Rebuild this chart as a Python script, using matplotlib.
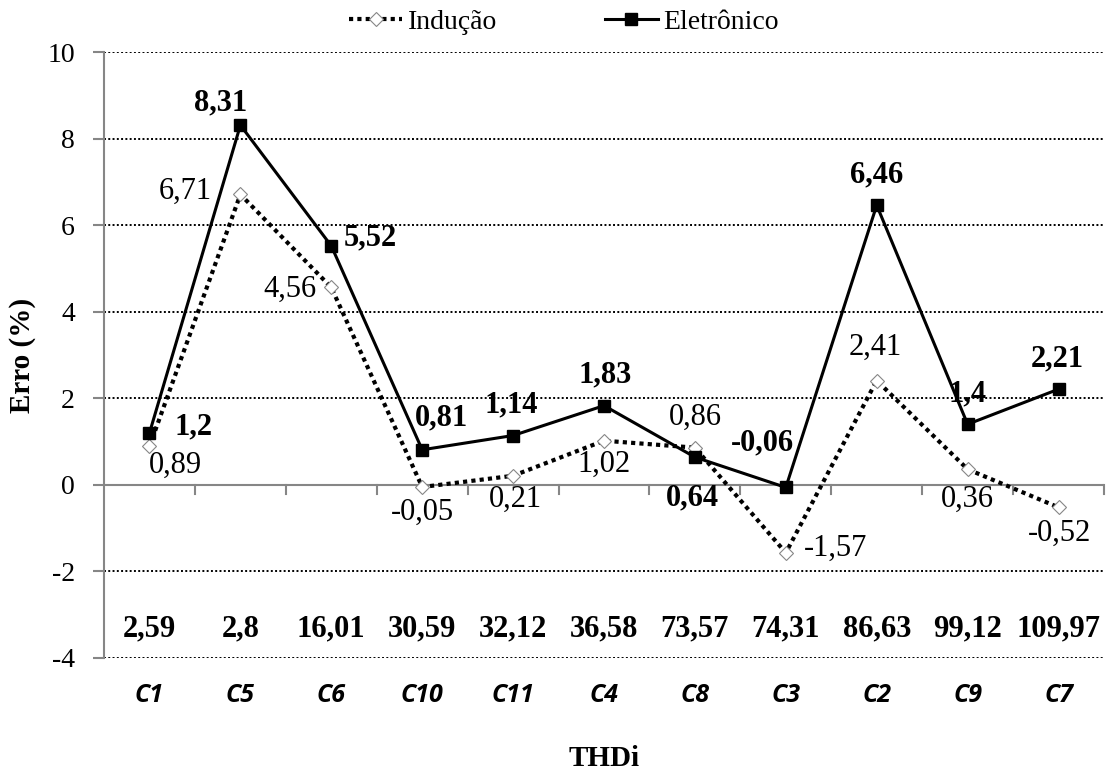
"""Erro (%) por carga: medidor de indução vs eletrônico"""

import matplotlib
matplotlib.use("Agg")
import matplotlib.pyplot as plt

# data
cargas = ["C1", "C5", "C6", "C10", "C11", "C4", "C8", "C3", "C2", "C9", "C7"]
thdi = ["2,59", "2,8", "16,01", "30,59", "32,12", "36,58", "73,57", "74,31",
        "86,63", "99,12", "109,97"]
inducao = [0.89, 6.71, 4.56, -0.05, 0.21, 1.02, 0.86, -1.57, 2.41, 0.36, -0.52]
eletronico = [1.2, 8.31, 5.52, 0.81, 1.14, 1.83, 0.64, -0.06, 6.46, 1.4, 2.21]

# label offsets (points) for each data label
off_ind = [(19, -14), (-40, 2), (-30, -1), (0, -18), (2, -17), (0, -17),
           (0, 22), (36, 3), (-1, 24), (0, -22), (1, -19)]
off_ele = [(32, 4), (-14, 16), (28, 6), (14, 23), (-1, 22), (1, 22),
           (-2, -29), (-17, 32), (0, 22), (0, 22), (-1, 22)]

SERIF = "Liberation Serif"
GRAY = "#868686"


def fmt(v):
    s = f"{v:.2f}".rstrip("0").rstrip(".")
    return s.replace(".", ",")


def main():
    fig = plt.figure(figsize=(11.14, 7.73), dpi=100)
    ax = fig.add_axes([0.0934, 0.1488, 0.8976, 0.7839])

    x = list(range(len(cargas)))

    ax.plot(x, inducao, linestyle=(0, (1, 1)), color="black", linewidth=3,
            marker="D", markersize=7, markerfacecolor="white",
            markeredgecolor=GRAY, markeredgewidth=0.8, label="Indução",
            zorder=3)
    ax.plot(x, eletronico, linestyle="-", color="black", linewidth=2.2,
            marker="s", markersize=9, markerfacecolor="black",
            markeredgecolor="black", label="Eletrônico", zorder=4)

    for i, v in enumerate(inducao):
        ax.annotate(fmt(v), (i, v), xytext=off_ind[i], textcoords="offset points",
                    ha="center", va="center", fontsize=22, family=SERIF)
    for i, v in enumerate(eletronico):
        ax.annotate(fmt(v), (i, v), xytext=off_ele[i], textcoords="offset points",
                    ha="center", va="center", fontsize=22, family=SERIF,
                    fontweight="bold")

    # THDi values along the bottom
    for i, t in enumerate(thdi):
        ax.text(i, -3.32, t, ha="center", va="center", fontsize=22,
                family=SERIF, fontweight="bold")

    ax.set_xlim(-0.5, len(cargas) - 0.5)
    ax.set_ylim(-4, 10)
    ax.set_yticks(range(-4, 11, 2))
    ax.set_yticklabels([str(v) for v in range(-4, 11, 2)], family=SERIF,
                       fontsize=20)

    # dotted grid, solid zero line
    for yv in range(-4, 11, 2):
        if yv != 0:
            ax.axhline(yv, color="black", linestyle=(0, (1, 1.2)),
                       linewidth=1.4, zorder=1)
    ax.axhline(0, color=GRAY, linewidth=1.5, zorder=2)
    for b in range(1, len(cargas) + 1):
        ax.plot([b - 0.5, b - 0.5], [0, -0.21], color=GRAY,
                linewidth=1.5, zorder=2, clip_on=False)

    for s in ["top", "right", "bottom"]:
        ax.spines[s].set_visible(False)
    ax.spines["left"].set_color(GRAY)
    ax.spines["left"].set_linewidth(1.5)
    ax.tick_params(axis="y", color=GRAY, length=8, width=1.5, pad=13)

    ax.set_xticks(x)
    ax.set_xticklabels(cargas, fontsize=18, fontweight="bold", style="italic",
                       family="Open Sans")
    ax.tick_params(axis="x", length=0, pad=18)

    ax.set_xlabel("THDi", family=SERIF, fontsize=21, fontweight="bold",
                  labelpad=27)
    ax.set_ylabel("Erro (%)", family=SERIF, fontsize=21, fontweight="bold",
                  labelpad=8)

    ax.legend(loc="lower center", bbox_to_anchor=(0.46, 1.005), ncol=2,
              frameon=False, prop={"family": SERIF, "size": 20},
              handlelength=1.9, columnspacing=3.9, borderaxespad=0.1,
              handletextpad=0.2)

    fig.savefig("out.png", dpi=100)
    plt.close(fig)


if __name__ == "__main__":
    main()
